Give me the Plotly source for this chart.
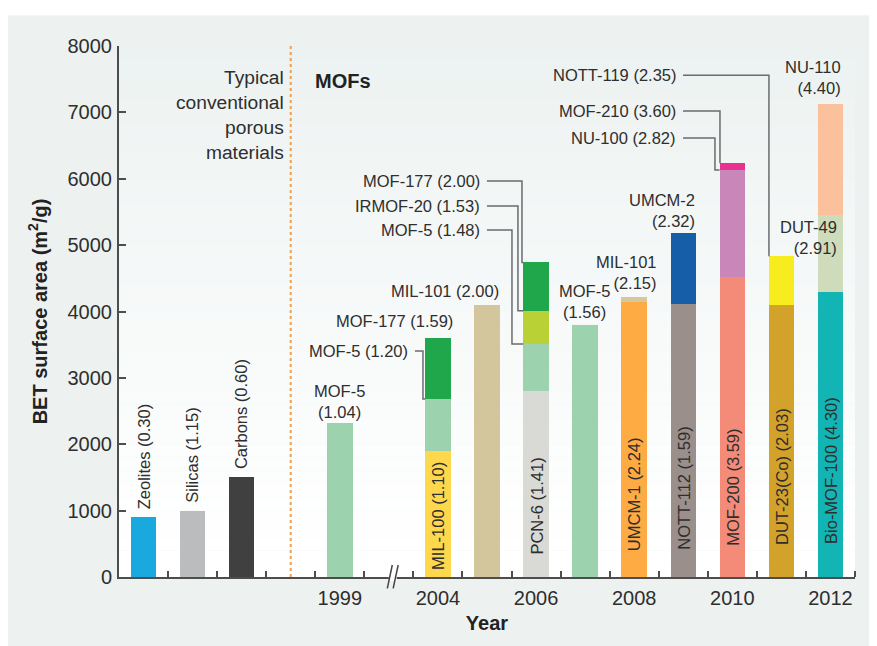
import plotly.graph_objects as go

# x slots: one bar per slot, plus the dotted divider and the axis break
slots = ["Zeolites", "Silicas", "Carbons", "divider", "1999", "break",
         "2004", "2005", "2006", "2007", "2008", "2009", "2010", "2011", "2012"]
year_ticks = ["1999", "2004", "2006", "2008", "2010", "2012"]

# one entry per material (bars in the same slot overlap, tallest behind)
materials = ["Zeolites", "Silicas", "Carbons", "MOF-5", "MIL-100", "MOF-5", "MOF-177",
             "MIL-101", "PCN-6", "MOF-5", "IRMOF-20", "MOF-177", "MOF-5", "UMCM-1",
             "MIL-101", "NOTT-112", "UMCM-2", "MOF-200", "NU-100", "MOF-210",
             "DUT-23(Co)", "NOTT-119", "Bio-MOF-100", "DUT-49", "NU-110"]
material_slot = ["Zeolites", "Silicas", "Carbons", "1999", "2004", "2004", "2004",
                 "2005", "2006", "2006", "2006", "2006", "2007", "2008",
                 "2008", "2009", "2009", "2010", "2010", "2010",
                 "2011", "2011", "2012", "2012", "2012"]
bet_area = [900, 1000, 1500, 2320, 1900, 2680, 3600,
            4100, 2800, 3510, 4010, 4740, 3790, 4140,
            4220, 4120, 5190, 4520, 6130, 6240,
            4100, 4840, 4290, 5450, 7130]
pore_volume = [0.30, 1.15, 0.60, 1.04, 1.10, 1.20, 1.59,
               2.00, 1.41, 1.48, 1.53, 2.00, 1.56, 2.24,
               2.15, 1.59, 2.32, 3.59, 2.82, 3.60,
               2.03, 2.35, 4.30, 2.91, 4.40]
bar_colors = ["#1aa9de", "#bbbcbe", "#404041", "#9cd3ae", "#fdd84d", "#9cd3ae", "#21a74b",
              "#d3c69c", "#d9d9d5", "#9cd3ae", "#b9d135", "#21a74b", "#9cd3ae", "#fdab42",
              "#d5c8a0", "#9a8f8a", "#175ea9", "#f48a78", "#c986b9", "#e93190",
              "#d3a22b", "#f7ec1e", "#12b5b3", "#cfdcbb", "#fbc19c"]

FONT = "Liberation Sans, Arial, sans-serif"
TXT = "#2e2e2e"
LINE = "#6a6b6d"
BAR_W = 0.52
SLOT_PX = 49.07

sx = {s: i for i, s in enumerate(slots)}
labels = [f"{m} ({v:.2f})" for m, v in zip(materials, pore_volume)]

fig = go.Figure()

# tallest first so the shorter bars sit in front
for i in sorted(range(len(materials)), key=lambda k: -bet_area[k]):
    fig.add_trace(go.Bar(
        x=[sx[material_slot[i]]], y=[bet_area[i]], width=BAR_W,
        marker=dict(color=bar_colors[i], line=dict(width=0)),
        name=labels[i], hoverinfo="name+y", showlegend=False,
    ))

ann = []


def label(i, text=None, **kw):
    d = dict(x=sx[material_slot[i]], y=bet_area[i], text=text or labels[i],
             showarrow=False, font=dict(family=FONT, size=16.5, color=TXT))
    d.update(kw)
    ann.append(d)


def two_line(i):
    return labels[i].replace(" (", "<br>(")


# vertical labels above the conventional materials
for i in range(3):
    label(i, textangle=-90, yanchor="bottom", yshift=6)

# labels above bars
label(3, two_line(3), yanchor="middle", yshift=22)
label(6, yanchor="middle", yshift=17, xanchor="right", xshift=0.35 * SLOT_PX)
label(7, yanchor="middle", yshift=14, xanchor="right", xshift=0.28 * SLOT_PX)
label(12, two_line(12), yanchor="middle", yshift=24, xshift=-1)
label(14, two_line(14), yanchor="middle", yshift=24, xanchor="right", align="right", xshift=0.5 * SLOT_PX)
label(16, two_line(16), yanchor="middle", yshift=22, xanchor="right", align="right", xshift=0.28 * SLOT_PX)
label(24, two_line(24), yanchor="middle", yshift=26, xanchor="right", align="right", xshift=0.26 * SLOT_PX)
label(23, two_line(23), yanchor="middle", yshift=-22, xanchor="right", align="right", xshift=0.17 * SLOT_PX)

# vertical labels inside the bars, from the bottom
for i, up in [(4, 5), (8, 20), (13, 24), (15, 25), (17, 29), (20, 30), (22, 31)]:
    label(i, y=0, textangle=-90, yanchor="bottom", yshift=up)

shapes = []
# labels joined to their bar by an elbow line: (material, label y, line start x, elbow x)
for i, ly, x0, xe in [(5, 3405, 5.532, 5.695),
                      (11, 5966, 6.999, 7.713), (10, 5590, 6.999, 7.631), (9, 5228, 6.999, 7.509),
                      (21, 7560, 10.994, 12.746), (19, 7021, 10.994, 11.748), (18, 6614, 10.994, 11.646)]:
    edge = sx[material_slot[i]] - BAR_W / 2
    label(i, x=x0, y=ly, xanchor="right", yanchor="middle", xshift=-5)
    shapes.append(dict(type="path", xref="x", yref="y",
                       path=f"M{x0},{ly} L{xe},{ly} L{xe},{bet_area[i]} L{edge},{bet_area[i]}",
                       line=dict(color=LINE, width=1.5)))

ann.append(dict(x=2.903, y=6953, text="Typical<br>conventional<br>porous<br>materials",
                xanchor="right", yanchor="middle", align="right", showarrow=False,
                font=dict(family=FONT, size=19.2, color=TXT)))
ann.append(dict(x=3.454, y=7473, text="<b>MOFs</b>", xanchor="left", yanchor="middle",
                showarrow=False, font=dict(family=FONT, size=20, color="#222")))

# panel background and a soft gradient inside the plot area
shapes.insert(0, dict(type="rect", xref="paper", yref="paper", x0=-0.151, x1=1.04,
                      y0=-0.14, y1=1.058, fillcolor="#edf2f0", line=dict(width=0), layer="below"))
top = (236, 242, 241)
n = 40
for k in range(n):
    t = ((k + 0.5) / n) ** 1.2
    c = tuple(round(255 + (tc - 255) * t) for tc in top)
    shapes.append(dict(type="rect", xref="x", yref="y", x0=-0.5, x1=14.5,
                       y0=8000 * k / n, y1=8000 * (k + 1) / n,
                       fillcolor=f"rgb{c}", line=dict(width=0), layer="below"))

# dotted divider between conventional materials and MOFs
shapes.append(dict(type="line", xref="x", yref="y", x0=sx["divider"], x1=sx["divider"],
                   y0=0, y1=8000, line=dict(color="#f5a55a", width=2.2, dash="dot")))

# axis break
shapes.append(dict(type="rect", xref="x", yref="paper", x0=5.0, x1=5.16, y0=-0.007, y1=0.007,
                   fillcolor="white", line=dict(width=0), layer="above"))
for dx in (0.0, 0.12):
    shapes.append(dict(type="line", xref="x", yref="paper", x0=4.968 + dx, x1=5.07 + dx,
                       y0=-0.0213, y1=0.0226, line=dict(color="#444", width=1.5), layer="above"))

# the page puts the figure 8px in from the top-left corner
fig.update_layout(
    width=869, height=638,
    margin=dict(l=111, r=22, t=38, b=69),
    paper_bgcolor="white", plot_bgcolor="white",
    barmode="overlay", bargap=0,
    font=dict(family=FONT, color=TXT),
    annotations=ann, shapes=shapes,
    xaxis=dict(
        range=[-0.5, 14.5], showgrid=False, zeroline=False, automargin=False,
        showline=True, linecolor="#4d4d4d", linewidth=2,
        tickmode="array", tickvals=[sx[y] for y in year_ticks], ticktext=year_ticks,
        ticks="", ticklabelstandoff=2,
        tickfont=dict(family=FONT, size=20, color=TXT),
        minor=dict(tickmode="array", tickvals=[k + 0.5 for k in range(15)],
                   ticks="inside", ticklen=6, tickwidth=1.5, tickcolor="#4d4d4d", showgrid=False),
        title=dict(text="<b>Year</b>", font=dict(family=FONT, size=20, color="#222"), standoff=8),
    ),
    yaxis=dict(
        range=[0, 8000], showgrid=False, zeroline=False, automargin=False,
        showline=True, linecolor="#4d4d4d", linewidth=2,
        tickmode="array", tickvals=list(range(0, 8001, 1000)),
        ticks="inside", ticklen=7, tickwidth=1.5, tickcolor="#4d4d4d",
        ticklabelstandoff=1,
        tickfont=dict(family=FONT, size=20, color=TXT),
        title=dict(text="<b>BET surface area (m<sup>2</sup>/g)</b>",
                   font=dict(family=FONT, size=20, color="#222"), standoff=15),
    ),
)

fig.write_html("out.html")
